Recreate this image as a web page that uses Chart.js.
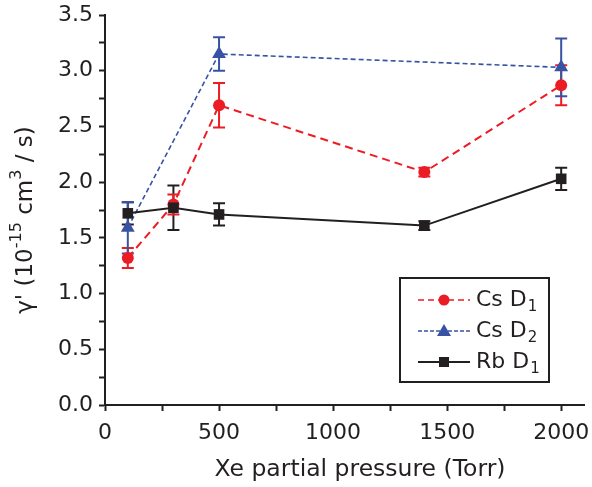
<!DOCTYPE html>
<html>
<head>
<meta charset="utf-8">
<script src="https://cdn.jsdelivr.net/npm/chart.js@4/dist/chart.umd.min.js"></script>
<style>
    html, body { margin: 0; padding: 0; background: #fff; }
    #wrap { width: 592px; height: 487px; }
</style>
</head>
<body>
<div id="wrap"><canvas id="chart"></canvas></div>
<script>
const pressure = [100, 300, 500, 1400, 2000];

const csD1 = [1.32, 1.80, 2.69, 2.09, 2.87];
const csD1Err = [0.09, 0.09, 0.20, 0.04, 0.18];

const csD2Pressure = [100, 500, 2000];
const csD2 = [1.59, 3.15, 3.03];
const csD2Err = [0.23, 0.15, 0.26];

const rbD1 = [1.72, 1.77, 1.71, 1.61, 2.03];
const rbD1Err = [0.10, 0.20, 0.10, 0.04, 0.10];

const xTicks = [0, 500, 1000, 1500, 2000];
const yTicks = [0.0, 0.5, 1.0, 1.5, 2.0, 2.5, 3.0, 3.5];

const RED = '#ec1c24';
const BLUE = '#3953a4';
const BLACK = '#231f20';
const FONT = 'DejaVu Sans';

function pts(xs, ys) {
    return xs.map((x, i) => ({x: x, y: ys[i]}));
}

// vertical error bars with caps, drawn under the markers
const errorBars = {
    id: 'errorBars',
    beforeDatasetsDraw(chart) {
        const ctx = chart.ctx;
        const yScale = chart.scales.y;
        chart.data.datasets.forEach((ds, i) => {
            const meta = chart.getDatasetMeta(i);
            ctx.save();
            ctx.strokeStyle = ds.borderColor;
            ctx.lineWidth = 2;
            ctx.setLineDash([]);
            meta.data.forEach((pt, j) => {
                const v = ds.data[j].y;
                const e = ds.errors[j];
                const top = yScale.getPixelForValue(v + e);
                const bot = yScale.getPixelForValue(v - e);
                ctx.beginPath();
                ctx.moveTo(pt.x, top);
                ctx.lineTo(pt.x, bot);
                ctx.moveTo(pt.x - 6, top);
                ctx.lineTo(pt.x + 6, top);
                ctx.moveTo(pt.x - 6, bot);
                ctx.lineTo(pt.x + 6, bot);
                ctx.stroke();
            });
            ctx.restore();
        });
    }
};

// axis titles; the y one needs real superscripts
const axisTitles = {
    id: 'axisTitles',
    afterDraw(chart) {
        const ctx = chart.ctx;
        const parts = [
            {t: "γ' (10", size: 23, dy: 0},
            {t: '-15', size: 16, dy: -9},
            {t: ' cm', size: 23, dy: 0},
            {t: '3', size: 16, dy: -9},
            {t: ' / s)', size: 23, dy: 0}
        ];
        ctx.save();
        let total = 0;
        parts.forEach(p => {
            ctx.font = p.size + 'px "' + FONT + '"';
            p.w = ctx.measureText(p.t).width;
            total += p.w;
        });
        const a = chart.chartArea;
        ctx.fillStyle = BLACK;
        ctx.textBaseline = 'middle';

        ctx.save();
        ctx.translate(26, (a.top + a.bottom) / 2 + 10);
        ctx.rotate(-Math.PI / 2);
        ctx.textAlign = 'left';
        let x = -total / 2;
        parts.forEach(p => {
            ctx.font = p.size + 'px "' + FONT + '"';
            ctx.fillText(p.t, x, p.dy);
            x += p.w;
        });
        ctx.restore();

        ctx.textAlign = 'center';
        ctx.font = '23.5px "' + FONT + '"';
        ctx.fillText('Xe partial pressure (Torr)', 360, 470);
        ctx.restore();
    }
};

// boxed legend with line samples and subscripted labels
const boxLegend = {
    id: 'boxLegend',
    afterDraw(chart) {
        const ctx = chart.ctx;
        const left = 400, top = 278, w = 149, h = 104;
        ctx.save();
        ctx.strokeStyle = BLACK;
        ctx.lineWidth = 2;
        ctx.setLineDash([]);
        ctx.strokeRect(left, top, w, h);

        const rows = [
            {label: 'Cs D', sub: '1', color: RED, dash: [6, 4], style: 'circle', y: 300},
            {label: 'Cs D', sub: '2', color: BLUE, dash: [4, 2], style: 'triangle', y: 331},
            {label: 'Rb D', sub: '1', color: BLACK, dash: [], style: 'rect', y: 362}
        ];
        rows.forEach(r => {
            ctx.strokeStyle = r.color;
            ctx.fillStyle = r.color;
            ctx.lineWidth = r.style === 'rect' ? 2 : 1.5;
            ctx.setLineDash(r.dash);
            ctx.beginPath();
            ctx.moveTo(418, r.y);
            ctx.lineTo(470, r.y);
            ctx.stroke();
            ctx.setLineDash([]);
            ctx.beginPath();
            if (r.style === 'circle') {
                ctx.arc(444, r.y, 5.5, 0, Math.PI * 2);
            } else if (r.style === 'triangle') {
                ctx.moveTo(444, r.y - 7);
                ctx.lineTo(451, r.y + 5);
                ctx.lineTo(437, r.y + 5);
                ctx.closePath();
            } else {
                ctx.rect(439, r.y - 5, 10, 10);
            }
            ctx.fill();

            ctx.fillStyle = BLACK;
            ctx.font = '22px "' + FONT + '"';
            ctx.textBaseline = 'middle';
            ctx.textAlign = 'left';
            ctx.fillText(r.label, 476, r.y);
            const tw = ctx.measureText(r.label).width;
            ctx.font = '15px "' + FONT + '"';
            ctx.fillText(r.sub, 476 + tw + 1, r.y + 7);
        });
        ctx.restore();
    }
};

new Chart(document.getElementById('chart'), {
    type: 'line',
    data: {
        datasets: [
            {
                label: 'Rb D1',
                data: pts(pressure, rbD1),
                errors: rbD1Err,
                borderColor: BLACK,
                backgroundColor: BLACK,
                borderWidth: 2,
                pointStyle: 'rect',
                pointRadius: 7.5,
                pointBorderWidth: 0,
                order: 0
            },
            {
                label: 'Cs D1',
                data: pts(pressure, csD1),
                errors: csD1Err,
                borderColor: RED,
                backgroundColor: RED,
                borderWidth: 2,
                borderDash: [8, 5],
                pointStyle: 'circle',
                pointRadius: 6,
                pointBorderWidth: 0,
                order: 1
            },
            {
                label: 'Cs D2',
                data: pts(csD2Pressure, csD2),
                errors: csD2Err,
                borderColor: BLUE,
                backgroundColor: BLUE,
                borderWidth: 1.6,
                borderDash: [5, 3],
                pointStyle: 'triangle',
                pointRadius: 8,
                pointBorderWidth: 0,
                order: 2
            }
        ]
    },
    options: {
        responsive: true,
        maintainAspectRatio: false,
        animation: false,
        layout: {
            padding: {left: 0, right: 5, top: 15, bottom: 0}
        },
        scales: {
            x: {
                type: 'linear',
                min: 0,
                max: 2100,
                afterFit: (s) => { s.height = 82; s.paddingRight = 0; s.paddingLeft = 0; },
                afterBuildTicks: (s) => {
                    const t = [];
                    for (let v = 0; v <= 2000; v += 250) t.push({value: v});
                    s.ticks = t;
                },
                border: {display: true, color: BLACK, width: 2},
                grid: {
                    display: true,
                    drawOnChartArea: false,
                    drawTicks: true,
                    tickLength: 6,
                    tickWidth: 2,
                    tickColor: BLACK
                },
                ticks: {
                    color: BLACK,
                    font: {family: FONT, size: 22},
                    padding: 9,
                    maxRotation: 0,
                    autoSkip: false,
                    callback: (v) => xTicks.includes(v) ? String(v) : ''
                },
                title: {display: false}
            },
            y: {
                type: 'linear',
                min: 0,
                max: 3.5,
                afterFit: (s) => { s.width = 105; s.paddingTop = 0; s.paddingBottom = 0; },
                afterBuildTicks: (s) => {
                    const t = [];
                    for (let v = 0; v <= 3.5001; v += 0.25) t.push({value: Math.round(v * 100) / 100});
                    s.ticks = t;
                },
                border: {display: true, color: BLACK, width: 2},
                grid: {
                    display: true,
                    drawOnChartArea: false,
                    drawTicks: true,
                    tickLength: 6,
                    tickWidth: 2,
                    tickColor: BLACK
                },
                ticks: {
                    color: BLACK,
                    font: {family: FONT, size: 22},
                    padding: 6,
                    autoSkip: false,
                    callback: (v) => yTicks.includes(v) ? v.toFixed(1) : ''
                },
                title: {display: false}
            }
        },
        plugins: {
            legend: {display: false},
            tooltip: {enabled: false}
        }
    },
    plugins: [errorBars, axisTitles, boxLegend]
});
</script>
</body>
</html>
